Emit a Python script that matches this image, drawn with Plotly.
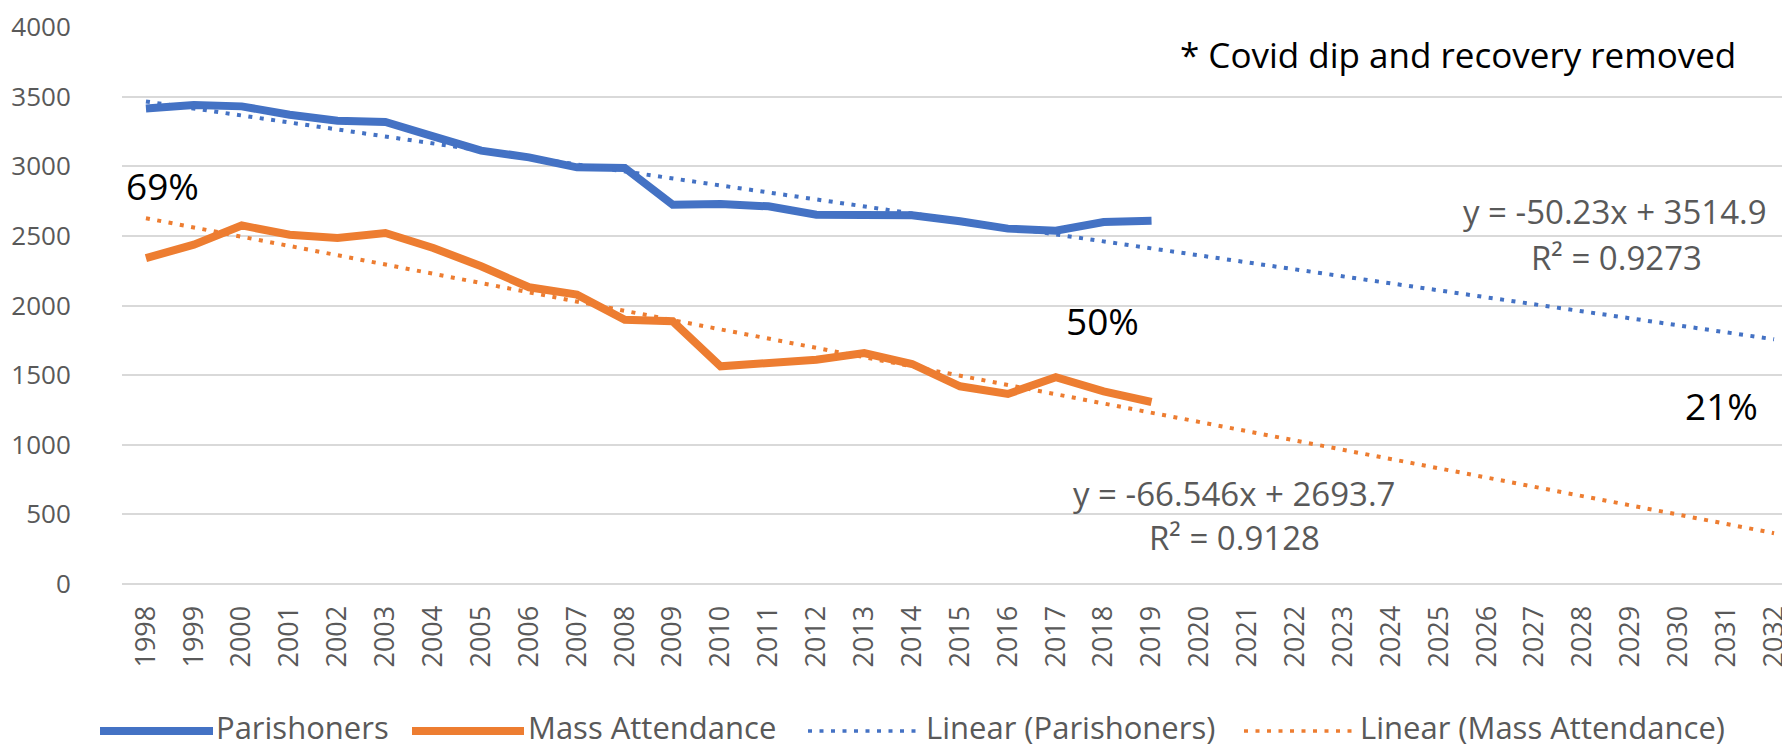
import plotly.graph_objects as go

# category axis
years = ["1998", "1999", "2000", "2001", "2002", "2003", "2004", "2005", "2006",
         "2007", "2008", "2009", "2010", "2011", "2012", "2013", "2014", "2015",
         "2016", "2017", "2018", "2019", "2020", "2021", "2022", "2023", "2024",
         "2025", "2026", "2027", "2028", "2029", "2030", "2031", "2032"]
data_years = years[:22]

parishoners = [3415, 3440, 3430, 3370, 3327, 3318, 3215, 3112, 3064, 2992, 2988,
               2724, 2729, 2712, 2652, 2652, 2648, 2605, 2552, 2537, 2600, 2609]
mass_attendance = [2340, 2437, 2575, 2508, 2485, 2521, 2413, 2282, 2131, 2078, 1898,
                   1887, 1563, 1594, 1611, 1659, 1580, 1420, 1365, 1485, 1384, 1307]

# linear trendlines, end points
trend_years = ["1998", "2032"]
parish_trend = [3465, 1757]
mass_trend = [2627, 365]

BLUE = "#4472C4"
ORANGE = "#ED7D31"
GREY = "#595959"
FONT = "Open Sans"

W, H = 1790, 752
L, T, B = 114, 19, 176
PW, PH = W - L, H - T - B


def px(x):
    return (x - L) / PW


def py(y):
    return (H - B - y) / PH


fig = go.Figure()
fig.add_trace(go.Scatter(x=data_years, y=parishoners, mode="lines",
                         line=dict(color=BLUE, width=8), name="Parishoners"))
fig.add_trace(go.Scatter(x=data_years, y=mass_attendance, mode="lines",
                         line=dict(color=ORANGE, width=8), name="Mass Attendance"))
fig.add_trace(go.Scatter(x=trend_years, y=parish_trend, mode="lines",
                         line=dict(color=BLUE, width=4, dash="4px,7.5px"),
                         name="Linear (Parishoners)"))
fig.add_trace(go.Scatter(x=trend_years, y=mass_trend, mode="lines",
                         line=dict(color=ORANGE, width=4, dash="4px,7.5px"),
                         name="Linear (Mass Attendance)"))

annotations = []


def label(text, x, y, size, color, xanchor="center"):
    # text boxes sit a little low, so lift them to put the caps on y
    annotations.append(dict(text=text, x=px(x), y=py(y - 7), xref="paper", yref="paper",
                            xanchor=xanchor, yanchor="middle", showarrow=False,
                            font=dict(family=FONT, size=size, color=color)))


label("* Covid dip and recovery removed", 1170, 53, 35, "black", "left")
label("69%", 154, 184, 37, "black")
label("50%", 1094, 319, 37, "black")
label("21%", 1713, 404, 37, "black")
label("y = -50.23x + 3514.9", 1607, 210, 33, GREY)
label("R² = 0.9273", 1608, 256, 33, GREY)
label("y = -66.546x + 2693.7", 1226, 492, 33, GREY)
label("R² = 0.9128", 1226, 536, 33, GREY)

# legend drawn by hand so the symbols match the original's length
shapes = []
legend_y = 723
legend_items = [
    (92, 205, 206, "Parishoners", BLUE, 8, "solid"),
    (404, 516, 518, "Mass Attendance", ORANGE, 8, "solid"),
    (800, 912, 916, "Linear (Parishoners)", BLUE, 3.5, "4px,7.5px"),
    (1236, 1347, 1350, "Linear (Mass Attendance)", ORANGE, 3.5, "4px,7.5px"),
]
for x0, x1, xt, text, color, width, dash in legend_items:
    shapes.append(dict(type="line", xref="paper", yref="paper",
                       x0=px(x0), x1=px(x1), y0=py(legend_y), y1=py(legend_y),
                       line=dict(color=color, width=width, dash=dash)))
    label(text, xt, legend_y + 3, 31, GREY, "left")

fig.update_layout(
    width=W, height=H,
    margin=dict(l=L, r=0, t=T, b=B),
    plot_bgcolor="white", paper_bgcolor="white",
    showlegend=False,
    annotations=annotations,
    shapes=shapes,
    xaxis=dict(type="category", categoryorder="array", categoryarray=years,
               range=[-0.5, 34.5], tickangle=-90, showgrid=False, showline=False,
               ticks="outside", ticklen=10, tickcolor="rgba(0,0,0,0)",
               tickfont=dict(family=FONT, size=27, color=GREY)),
    yaxis=dict(range=[0, 4000], dtick=500, showgrid=True, gridcolor="#D9D9D9",
               gridwidth=2, zeroline=True, zerolinecolor="#D9D9D9", zerolinewidth=2,
               showline=False, ticks="outside", ticklen=45,
               tickcolor="rgba(0,0,0,0)", ticklabeloverflow="allow",
               tickfont=dict(family=FONT, size=26, color=GREY)),
)

fig.write_html("out.html")
